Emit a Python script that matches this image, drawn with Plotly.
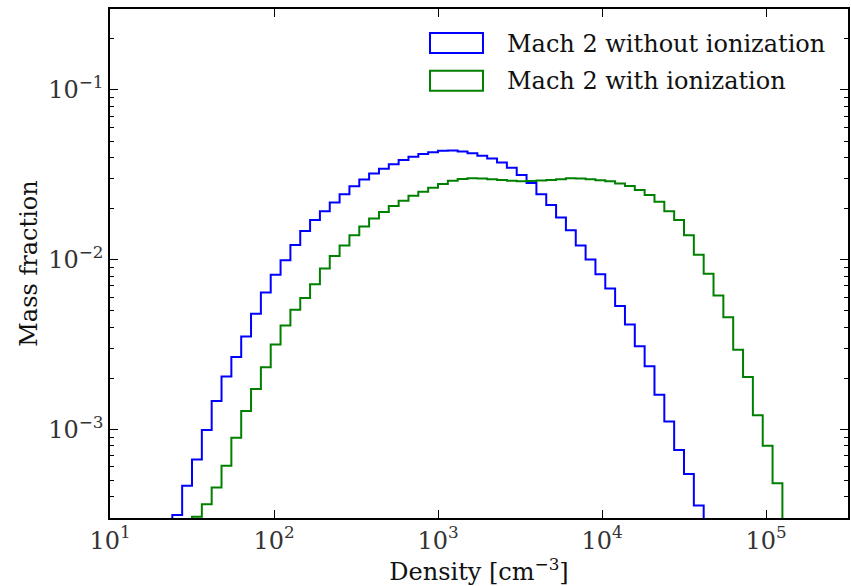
import plotly.graph_objects as go

# log10(density) bin edges shared by both histograms
log_edges = [1.38, 1.44, 1.50, 1.56, 1.62, 1.68, 1.74, 1.80, 1.86, 1.92, 1.98,
             2.04, 2.10, 2.16, 2.22, 2.28, 2.34, 2.40, 2.46, 2.52, 2.58, 2.64,
             2.70, 2.76, 2.82, 2.88, 2.94, 3.00, 3.06, 3.12, 3.18, 3.24, 3.30,
             3.36, 3.42, 3.48, 3.54, 3.60, 3.66, 3.72, 3.78, 3.84, 3.90, 3.96,
             4.02, 4.08, 4.14, 4.20, 4.26, 4.32, 4.38, 4.44, 4.50, 4.56, 4.62,
             4.68, 4.74, 4.80, 4.86, 4.92, 4.98, 5.04, 5.10]

# Mach 2 without ionization: bins 0..53
no_ion = [3.12e-4, 4.65e-4, 6.64e-4, 9.9e-4, 1.47e-3, 2.05e-3, 2.67e-3, 3.52e-3,
          4.80e-3, 6.41e-3, 8.15e-3, 9.9e-3, 1.22e-2, 1.475e-2, 1.71e-2, 1.93e-2,
          2.17e-2, 2.43e-2, 2.71e-2, 2.97e-2, 3.22e-2, 3.43e-2, 3.65e-2, 3.86e-2,
          4.04e-2, 4.19e-2, 4.30e-2, 4.38e-2, 4.40e-2, 4.33e-2, 4.23e-2, 4.09e-2,
          3.95e-2, 3.74e-2, 3.48e-2, 3.15e-2, 2.83e-2, 2.43e-2, 2.10e-2, 1.77e-2,
          1.49e-2, 1.21e-2, 1.00e-2, 8.2e-3, 6.75e-3, 5.32e-3, 4.15e-3, 3.09e-3,
          2.35e-3, 1.60e-3, 1.11e-3, 7.55e-4, 5.45e-4, 3.56e-4]
no_ion_first_bin = 0

# Mach 2 with ionization: bins 2..61
with_ion = [3.05e-4, 3.62e-4, 4.54e-4, 6.10e-4, 8.9e-4, 1.28e-3, 1.73e-3, 2.32e-3,
            3.16e-3, 4.09e-3, 5.07e-3, 5.93e-3, 7.15e-3, 8.85e-3, 1.05e-2, 1.21e-2,
            1.39e-2, 1.57e-2, 1.75e-2, 1.91e-2, 2.07e-2, 2.22e-2, 2.38e-2, 2.51e-2,
            2.65e-2, 2.79e-2, 2.92e-2, 2.99e-2, 3.02e-2, 3.01e-2, 2.98e-2, 2.95e-2,
            2.92e-2, 2.90e-2, 2.91e-2, 2.93e-2, 2.95e-2, 2.98e-2, 3.02e-2, 3.01e-2,
            2.98e-2, 2.94e-2, 2.90e-2, 2.81e-2, 2.72e-2, 2.57e-2, 2.40e-2, 2.19e-2,
            1.93e-2, 1.71e-2, 1.39e-2, 1.07e-2, 8.26e-3, 6.15e-3, 4.58e-3, 2.94e-3,
            2.03e-3, 1.21e-3, 8.0e-4, 4.80e-4]
with_ion_first_bin = 2

series_names = ["Mach 2 without ionization", "Mach 2 with ionization"]
series_colors = ["#0000ff", "#008000"]

x_ticks = [1e1, 1e2, 1e3, 1e4, 1e5]
x_ticktext = ["10<sup>1</sup>", "10<sup>2</sup>", "10<sup>3</sup>", "10<sup>4</sup>", "10<sup>5</sup>"]
y_ticks = [1e-3, 1e-2, 1e-1]
y_ticktext = ["10<sup>\u22123</sup>", "10<sup>\u22122</sup>", "10<sup>\u22121</sup>"]

FONT = "DejaVu Serif"
baseline = 1e-6  # stands in for zero on the log axis


def step_xy(first_bin, vals):
    edges = [10 ** e for e in log_edges[first_bin:first_bin + len(vals) + 1]]
    xs = [edges[0]] + edges[:-1] + [edges[-1]]
    ys = [baseline] + list(vals) + [baseline]
    return xs, ys


fig = go.Figure()
for name, color, first, vals in zip(series_names, series_colors,
                                    [no_ion_first_bin, with_ion_first_bin],
                                    [no_ion, with_ion]):
    xs, ys = step_xy(first, vals)
    fig.add_trace(go.Scatter(x=xs, y=ys, mode="lines", name=name,
                             line=dict(color=color, width=2, shape="hv"),
                             showlegend=False))

minor_y = [m * 10 ** k for k in range(-4, 0) for m in range(2, 10)]

axis_common = dict(type="log", showgrid=False, zeroline=False, showline=True,
                   linecolor="black", linewidth=1.5, mirror="ticks",
                   ticks="inside", ticklen=8, tickcolor="black", tickwidth=1,
                   tickmode="array", automargin=False,
                   tickfont=dict(family=FONT, size=24, color="#333333"))

fig.update_xaxes(**axis_common, range=[1, 5.5], tickvals=x_ticks, ticktext=x_ticktext,
                 title=dict(text="Density [cm<sup>\u22123</sup>]",
                            font=dict(family=FONT, size=24, color="#111111"),
                            standoff=4))
fig.update_yaxes(**axis_common, range=[-3.5229, -0.5229], tickvals=y_ticks,
                 ticktext=y_ticktext,
                 minor=dict(tickmode="array", tickvals=minor_y, ticks="inside",
                            ticklen=4, tickcolor="black", showgrid=False),
                 title=dict(text="Mass fraction",
                            font=dict(family=FONT, size=24, color="#111111"),
                            standoff=4))

# legend drawn as outlined patches like the original
legend_rows = [(0.9136, 0.9528, 0.9322), (0.8395, 0.8788, 0.8595)]
for (y0, y1, yc), name, color in zip(legend_rows, series_names, series_colors):
    fig.add_shape(type="rect", xref="paper", yref="paper", x0=0.4336, x1=0.5054,
                  y0=y0, y1=y1, line=dict(color=color, width=2), fillcolor="rgba(0,0,0,0)")
    fig.add_annotation(xref="paper", yref="paper", x=0.5352, y=yc, text=name,
                       showarrow=False, xanchor="left", yanchor="middle",
                       font=dict(family=FONT, size=24, color="#111111"))

fig.update_layout(width=851, height=586, margin=dict(l=110, r=3, t=9, b=68),
                  plot_bgcolor="white", paper_bgcolor="white",
                  font=dict(family=FONT, size=24))

fig.write_html("out.html", config={"displayModeBar": False},
               post_script="document.body.style.margin='0';"
                           "document.body.style.overflow='hidden';")
